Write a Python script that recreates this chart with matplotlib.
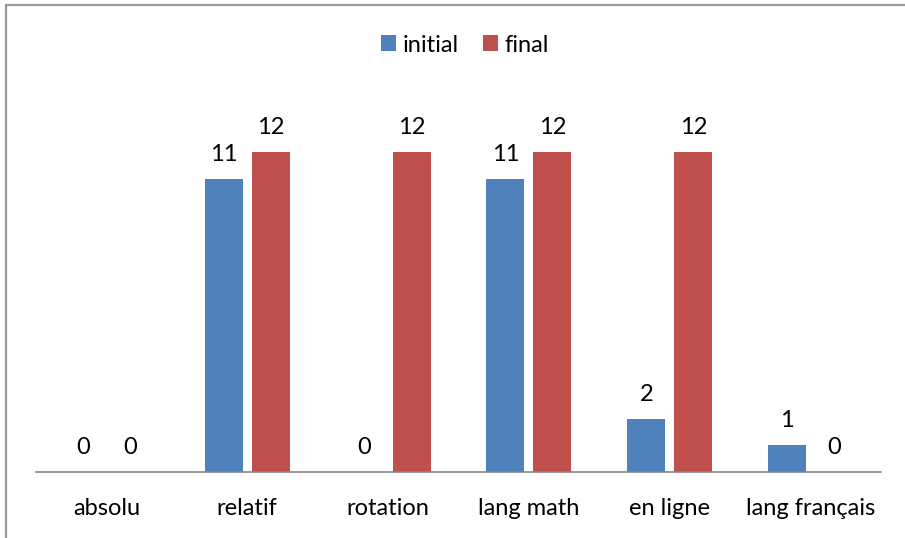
import matplotlib
matplotlib.use("Agg")
import matplotlib.pyplot as plt
from matplotlib.patches import Rectangle
import numpy as np

categories = ["absolu", "relatif", "rotation", "lang math", "en ligne", "lang français"]
initial = [0, 11, 0, 11, 2, 1]
final = [0, 12, 12, 12, 12, 0]

plt.rcParams['font.family'] = ['Lato', 'DejaVu Sans']
FS = 17
W, H = 905, 538
fig = plt.figure(figsize=(W / 100, H / 100), dpi=100)

# outer frame
fig.patches.append(Rectangle((6 / W, -0.05), 1.2, 1 - 5 / H + 0.05, transform=fig.transFigure,
                             fill=False, edgecolor="#9a9a9a", linewidth=1.6))

ax = fig.add_axes([36 / W, 66 / H, (881 - 36) / W, (472 - 98.7) / H])
x = np.arange(len(categories))
off = 0.167
w = 0.27
blue = "#4f81bd"
red = "#c0504d"
b1 = ax.bar(x - off, initial, w, color=blue, label="initial")
b2 = ax.bar(x + off, final, w, color=red, label="final")

ax.bar_label(b1, labels=[str(v) for v in initial], padding=10, fontsize=FS)
ax.bar_label(b2, labels=[str(v) for v in final], padding=10, fontsize=FS)

ax.set_xlim(-0.5, len(categories) - 0.5)
ax.set_ylim(0, 14)
for s in ["top", "right", "left"]:
    ax.spines[s].set_visible(False)
ax.spines["bottom"].set_color("#868686")
ax.spines["bottom"].set_linewidth(1.2)
ax.set_yticks([])
ax.set_xticks(x)
ax.set_xticklabels(categories, fontsize=FS)
ax.tick_params(axis="x", length=0, pad=19)

fig.legend(loc="center", bbox_to_anchor=(465 / W, 1 - 45 / H), ncol=2, frameon=False,
           fontsize=FS, handlelength=0.63, handleheight=0.63, handletextpad=0.3,
           columnspacing=1.0)

fig.savefig("out.png", dpi=100)
